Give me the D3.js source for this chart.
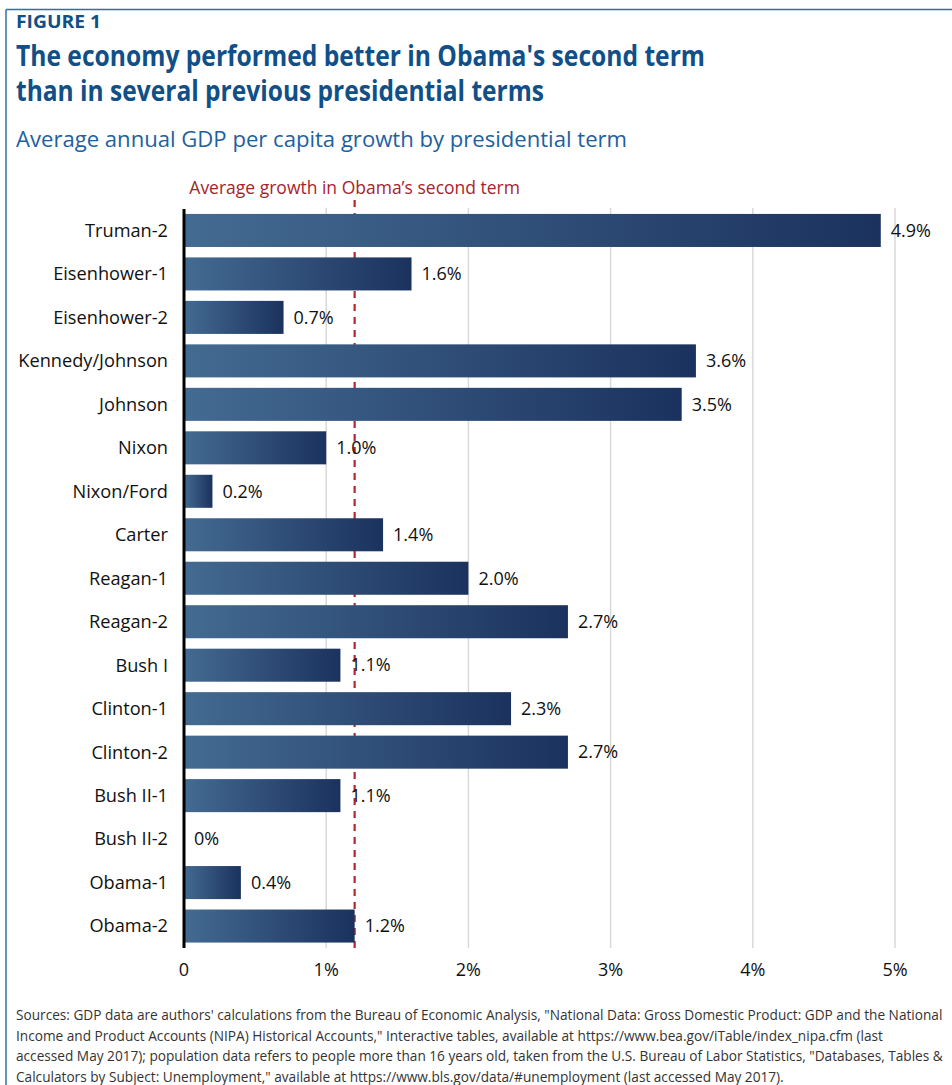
<!DOCTYPE html>
<html>
<head>
  <meta charset="utf-8">
  <title>GDP per capita growth by presidential term</title>
  <script src="https://d3js.org/d3.v7.min.js"></script>
  <style>
    body { margin: 0; background: #fff; }
    text { font-family: "Open Sans", sans-serif; }
    .title { font-weight: bold; fill: #104f88; }
    .cat { font-size: 18.2px; fill: #111; }
    .val { font-size: 18px; fill: #111; }
    .tick-label { font-size: 18px; fill: #111; }
    .source { font-size: 13.65px; fill: #333; }
  </style>
</head>
<body>
  <svg width="952" height="1085"></svg>
  <script>
    // presidential terms, top to bottom
    const terms = ["Truman-2", "Eisenhower-1", "Eisenhower-2", "Kennedy/Johnson", "Johnson",
      "Nixon", "Nixon/Ford", "Carter", "Reagan-1", "Reagan-2", "Bush I", "Clinton-1",
      "Clinton-2", "Bush II-1", "Bush II-2", "Obama-1", "Obama-2"];
    // average annual GDP per capita growth, percent
    const growth = [4.9, 1.6, 0.7, 3.6, 3.5, 1.0, 0.2, 1.4, 2.0, 2.7, 1.1, 2.3, 2.7, 1.1, 0, 0.4, 1.2];
    const growthLabels = ["4.9%", "1.6%", "0.7%", "3.6%", "3.5%", "1.0%", "0.2%", "1.4%", "2.0%",
      "2.7%", "1.1%", "2.3%", "2.7%", "1.1%", "0%", "0.4%", "1.2%"];
    const obamaSecond = 1.2;
    const xTicks = [0, 1, 2, 3, 4, 5];
    const xTickLabels = ["0", "1%", "2%", "3%", "4%", "5%"];

    const sources = [
      "Sources: GDP data are authors' calculations from the Bureau of Economic Analysis, \"National Data: Gross Domestic Product: GDP and the National",
      "Income and Product Accounts (NIPA) Historical Accounts,\" Interactive tables, available at https://www.bea.gov/iTable/index_nipa.cfm (last",
      "accessed May 2017); population data refers to people more than 16 years old, taken from the U.S. Bureau of Labor Statistics, \"Databases, Tables &",
      "Calculators by Subject: Unemployment,\" available at https://www.bls.gov/data/#unemployment (last accessed May 2017)."
    ];

    const svg = d3.select("svg");

    // frame: top and left rule only
    svg.append("line").attr("x1", 6).attr("x2", 952).attr("y1", 9.5).attr("y2", 9.5)
      .attr("stroke", "#2f6ea6").attr("stroke-width", 1.5);
    svg.append("line").attr("x1", 6).attr("x2", 6).attr("y1", 9.5).attr("y2", 1085)
      .attr("stroke", "#2f6ea6").attr("stroke-width", 1.5);

    // header (condensed face is not available, so squeeze to the original widths)
    svg.append("text").attr("x", 16).attr("y", 28)
      .attr("font-weight", "bold").attr("font-size", 18).attr("fill", "#104f88")
      .attr("textLength", 85).attr("lengthAdjust", "spacingAndGlyphs")
      .text("FIGURE 1");
    svg.append("text").attr("class", "title").attr("x", 16).attr("y", 66).attr("font-size", 28)
      .attr("textLength", 689).attr("lengthAdjust", "spacingAndGlyphs")
      .text("The economy performed better in Obama's second term");
    svg.append("text").attr("class", "title").attr("x", 16).attr("y", 101).attr("font-size", 28)
      .attr("textLength", 528).attr("lengthAdjust", "spacingAndGlyphs")
      .text("than in several previous presidential terms");
    svg.append("text").attr("x", 16).attr("y", 147).attr("font-size", 22).attr("fill", "#1d61a0")
      .attr("textLength", 611).attr("lengthAdjust", "spacingAndGlyphs")
      .text("Average annual GDP per capita growth by presidential term");

    // scales
    const x = d3.scaleLinear().domain([0, 5]).range([184, 895]);
    const y = d3.scaleBand().domain(terms).range([208.5, 948]).paddingInner(0.24).paddingOuter(0.125);

    // bar gradient
    const grad = svg.append("defs").append("linearGradient").attr("id", "barGrad");
    grad.append("stop").attr("offset", "0%").attr("stop-color", "#446b92");
    grad.append("stop").attr("offset", "100%").attr("stop-color", "#1b325e");

    // gridlines
    svg.selectAll("line.grid")
      .data(xTicks.slice(1))
      .enter().append("line")
      .attr("class", "grid")
      .attr("x1", d => x(d)).attr("x2", d => x(d))
      .attr("y1", 208).attr("y2", 948)
      .attr("stroke", "#d9d9d9").attr("stroke-width", 1.5);

    // reference line for Obama's second term (sits behind the bars)
    svg.append("line")
      .attr("x1", x(obamaSecond)).attr("x2", x(obamaSecond))
      .attr("y1", 200).attr("y2", 948)
      .attr("stroke", "#b3272f").attr("stroke-width", 2.2)
      .attr("stroke-dasharray", "7,6");
    svg.append("text")
      .attr("x", x(obamaSecond)).attr("y", 194)
      .attr("text-anchor", "middle").attr("font-size", 17.5).attr("fill", "#a8232d")
      .text("Average growth in Obama\u2019s second term");

    // bars
    svg.selectAll("rect.bar")
      .data(terms)
      .enter().append("rect")
      .attr("class", "bar")
      .attr("x", x(0))
      .attr("y", d => y(d))
      .attr("width", (d, i) => x(growth[i]) - x(0))
      .attr("height", y.bandwidth())
      .attr("fill", "url(#barGrad)");

    // axis line
    svg.append("line").attr("x1", x(0)).attr("x2", x(0)).attr("y1", 209).attr("y2", 948)
      .attr("stroke", "#000").attr("stroke-width", 3);

    // category labels
    svg.selectAll("text.cat")
      .data(terms)
      .enter().append("text")
      .attr("class", "cat")
      .attr("x", 168)
      .attr("y", d => y(d) + y.bandwidth() / 2)
      .attr("dy", "0.35em")
      .attr("text-anchor", "end")
      .text(d => d);

    // value labels
    svg.selectAll("text.val")
      .data(terms)
      .enter().append("text")
      .attr("class", "val")
      .attr("x", (d, i) => x(growth[i]) + 10)
      .attr("y", d => y(d) + y.bandwidth() / 2)
      .attr("dy", "0.35em")
      .text((d, i) => growthLabels[i]);

    // x tick labels
    svg.selectAll("text.tick-label")
      .data(xTicks)
      .enter().append("text")
      .attr("class", "tick-label")
      .attr("x", d => x(d))
      .attr("y", 976)
      .attr("text-anchor", "middle")
      .text((d, i) => xTickLabels[i]);

    // sources
    svg.selectAll("text.source")
      .data(sources)
      .enter().append("text")
      .attr("class", "source")
      .attr("x", 16)
      .attr("y", (d, i) => 1020 + i * 20.7)
      .text(d => d);
  </script>
</body>
</html>
